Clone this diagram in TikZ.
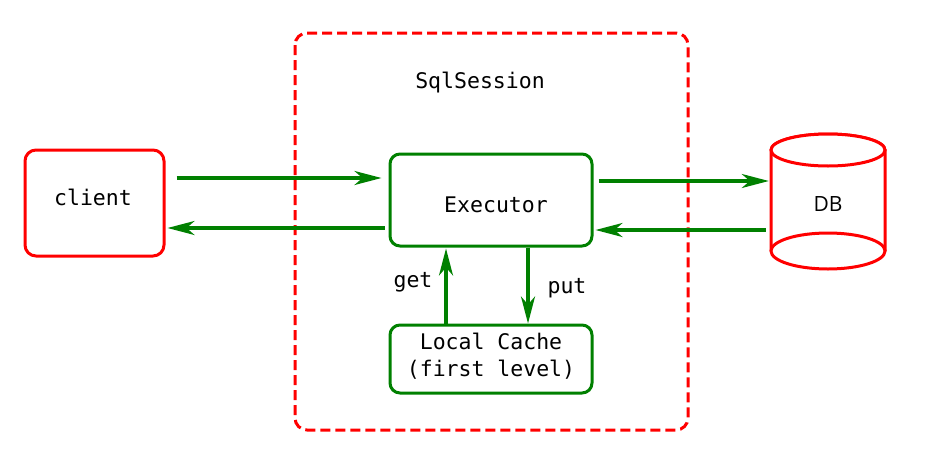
\documentclass[tikz,border=0pt]{standalone}
\usepackage{fontspec}
\setmonofont{DejaVu Sans Mono}
\newfontfamily\dbfont{Open Sans}
\usetikzlibrary{arrows.meta}
\definecolor{boxred}{HTML}{FF0000}
\definecolor{flowgreen}{HTML}{008000}
\begin{document}
\begin{tikzpicture}[x=1pt,y=-1pt,
  every node/.style={font=\ttfamily\fontsize{21.5}{27}\selectfont},
  redbox/.style={draw=boxred,line width=3pt,rounded corners=11pt,fill=white},
  greenbox/.style={draw=flowgreen,line width=3pt,rounded corners=10pt,fill=white},
  flow/.style={draw=flowgreen,line width=3.2pt,-{Stealth[length=27pt,width=14pt,inset=8pt]}}]
  \useasboundingbox (0,0) rectangle (936,458);

  % session boundary
  \draw[boxred,line width=3pt,dash pattern=on 10pt off 5pt,rounded corners=12pt]
    (295,33) rectangle (688,430);
  \node (session) at (480,83) {SqlSession};

  % participants
  \node[redbox,minimum width=139pt,minimum height=106pt] (client) at (94.5,203) {};
  \node (clienttext) at (93,197) {client};
  \node[greenbox,minimum width=202pt,minimum height=92pt] (exec) at (491,200) {};
  \node (exectext) at (496,205) {Executor};
  \node[greenbox,minimum width=202pt,minimum height=68pt] (cache) at (491,359) {};
  \node[align=center] (cachetext) at (491,356) {Local Cache\\(first level)};

  % database cylinder
  \node[minimum width=114pt,minimum height=120pt,inner sep=0pt] (db) at (828,200) {};
  \draw[boxred,line width=3pt,fill=white]
    (771,251) -- (771,150) arc[start angle=180,end angle=360,x radius=57,y radius=16] -- (885,251);
  \draw[boxred,line width=3pt,fill=white] (828,150) ellipse[x radius=57,y radius=16];
  \draw[boxred,line width=3pt,fill=white] (828,251) ellipse[x radius=57,y radius=18];
  \node[font=\dbfont\fontsize{21}{24}\selectfont] (dblabel) at (828,204) {DB};

  % request/response flows
  \draw[flow] ([xshift=11pt,yshift=25pt]client.east) -- ([xshift=-7pt,yshift=22pt]exec.west);
  \draw[flow] ([xshift=-4pt,yshift=-28pt]exec.west) -- ([xshift=2pt,yshift=-25pt]client.east);
  \draw[flow] ([xshift=5pt,yshift=19pt]exec.east) -- ([xshift=-2pt,yshift=19pt]db.west);
  \draw[flow] ([xshift=-5pt,yshift=-30pt]db.west) -- ([xshift=2pt,yshift=-30pt]exec.east);

  % cache access
  \draw[flow] ([xshift=-45pt]cache.north) -- ([xshift=-45pt,yshift=-1pt]exec.south);
  \draw[flow] ([xshift=37pt]exec.south) -- ([xshift=37pt]cache.north);
  \node (get) at (413,282) {get};
  \node (put) at (567,288) {put};
\end{tikzpicture}
\end{document}
